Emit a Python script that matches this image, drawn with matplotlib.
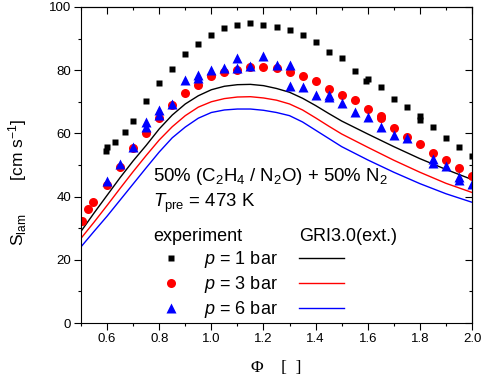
import matplotlib
matplotlib.use('Agg')
import matplotlib.pyplot as plt
from matplotlib.ticker import MultipleLocator

plt.rcParams['font.family'] = ['Liberation Sans', 'DejaVu Sans']
plt.rcParams['mathtext.fontset'] = 'custom'
plt.rcParams['mathtext.rm'] = 'Liberation Sans'
plt.rcParams['mathtext.it'] = 'Liberation Sans:italic'

# experiment, p = 1 bar
phi_1 = [0.595, 0.60, 0.63, 0.67, 0.70, 0.75, 0.80, 0.85, 0.90, 0.95, 1.00, 1.05, 1.10,
         1.15, 1.20, 1.25, 1.30, 1.35, 1.40, 1.45, 1.50, 1.55, 1.60, 1.595, 1.65, 1.70,
         1.75, 1.80, 1.80, 1.85, 1.90, 1.95, 2.00]
s_1 = [54.4, 55.7, 57.3, 60.4, 63.9, 70.3, 75.9, 80.4, 85.1, 88.3, 91.1, 93.4, 94.3,
       94.9, 94.3, 93.7, 92.7, 91.1, 88.9, 85.8, 83.9, 79.7, 77.2, 76.6, 74.7, 70.9,
       68.4, 65.5, 64.2, 62.0, 58.5, 55.7, 52.8]

# experiment, p = 3 bar
phi_3 = [0.505, 0.527, 0.546, 0.60, 0.65, 0.70, 0.75, 0.80, 0.85, 0.90, 0.95, 1.00,
         1.05, 1.10, 1.15, 1.20, 1.25, 1.30, 1.35, 1.40, 1.45, 1.50, 1.55, 1.60, 1.65,
         1.65, 1.70, 1.75, 1.80, 1.85, 1.90, 1.95, 2.00]
s_3 = [32.3, 36.1, 38.3, 43.7, 49.4, 55.4, 60.1, 64.9, 69.0, 72.8, 75.3, 78.2,
       79.4, 80.1, 81.0, 81.0, 80.7, 79.4, 78.2, 76.6, 74.1, 72.2, 70.6, 67.7, 65.5,
       64.9, 61.7, 58.9, 56.6, 53.8, 51.6, 49.1, 46.5]

# experiment, p = 6 bar
phi_6 = [0.60, 0.65, 0.70, 0.75, 0.75, 0.80, 0.80, 0.85, 0.90, 0.95, 0.95, 1.00, 1.05,
         1.10, 1.10, 1.15, 1.20, 1.25, 1.30, 1.30, 1.35, 1.40, 1.45, 1.45, 1.50, 1.55,
         1.60, 1.65, 1.70, 1.75, 1.85, 1.85, 1.90, 1.95, 1.95, 2.00]
s_6 = [44.9, 50.3, 55.7, 63.6, 62.0, 67.4, 65.8, 69.3, 76.9, 78.5, 77.5, 80.1, 80.7,
       83.9, 80.7, 81.3, 84.5, 81.6, 81.6, 75.0, 74.7, 72.2, 72.2, 71.5, 69.6, 66.8,
       65.2, 62.0, 59.5, 58.5, 51.9, 50.6, 49.7, 46.2, 45.3, 44.0]

# GRI3.0(ext.) model
phi_m = [0.50, 0.55, 0.60, 0.65, 0.70, 0.75, 0.80, 0.85, 0.90, 0.95, 1.00, 1.05, 1.10,
         1.15, 1.20, 1.25, 1.30, 1.35, 1.40, 1.45, 1.50, 1.60, 1.70, 1.80, 1.90, 2.00]
m_1 = [29.0, 34.8, 40.4, 46.0, 51.3, 56.2, 61.4, 65.8, 69.3, 71.9, 73.8, 74.9, 75.4,
       75.5, 75.1, 74.2, 73.0, 71.1, 68.8, 66.3, 63.9, 59.8, 55.8, 52.0, 48.6, 45.4]
m_3 = [26.8, 31.9, 37.2, 42.6, 47.9, 53.0, 57.9, 62.1, 65.6, 68.3, 70.0, 71.0, 71.5,
       71.6, 71.2, 70.5, 69.3, 67.4, 64.9, 62.3, 59.8, 55.6, 51.5, 47.7, 44.2, 41.3]
m_6 = [24.1, 29.0, 33.8, 38.9, 44.0, 49.1, 54.1, 58.6, 62.0, 64.8, 66.6, 67.4, 67.7,
       67.7, 67.3, 66.6, 65.6, 63.6, 61.0, 58.4, 55.8, 51.6, 47.7, 44.1, 40.9, 38.2]

labels = ['$p$ = 1 bar', '$p$ = 3 bar', '$p$ = 6 bar']

fig = plt.figure(figsize=(4.86, 3.85), dpi=100)
ax = fig.add_axes([0.1667, 0.161, 0.8045, 0.821])

l1, = ax.plot(phi_m, m_1, color='black', lw=1.0)
l3, = ax.plot(phi_m, m_3, color='red', lw=1.0)
l6, = ax.plot(phi_m, m_6, color='blue', lw=1.0)

p1, = ax.plot(phi_1, s_1, 's', color='black', ms=5, mec='none')
p3, = ax.plot(phi_3, s_3, 'o', color='red', ms=6.5, mec='none')
p6, = ax.plot(phi_6, s_6, '^', color='blue', ms=7, mec='none')

ax.set_xlim(0.5, 2.0)
ax.set_ylim(0, 100)
ax.xaxis.set_minor_locator(MultipleLocator(0.1))
ax.yaxis.set_major_locator(MultipleLocator(20))
ax.yaxis.set_minor_locator(MultipleLocator(10))
ax.set_xticks([0.6, 0.8, 1.0, 1.2, 1.4, 1.6, 1.8, 2.0])
ax.set_xticklabels(['0.6', '0.8', '1.0', '1.2', '1.4', '1.6', '1.8', '2.0'])
ax.tick_params(which='major', direction='out', length=5, width=0.8, labelsize=9.5, pad=2)
ax.tick_params(which='minor', direction='out', length=2.5, width=0.8)

# mirrored ticks on top / right, pointing in
top = ax.secondary_xaxis('top')
top.xaxis.set_major_locator(MultipleLocator(0.2))
top.xaxis.set_minor_locator(MultipleLocator(0.1))
top.tick_params(which='major', direction='in', length=5, width=0.8, labeltop=False)
top.tick_params(which='minor', direction='in', length=2.5, width=0.8)
right = ax.secondary_yaxis('right')
right.yaxis.set_major_locator(MultipleLocator(20))
right.yaxis.set_minor_locator(MultipleLocator(10))
right.tick_params(which='major', direction='in', length=5, width=0.8, labelright=False)
right.tick_params(which='minor', direction='in', length=2.5, width=0.8)

ax.set_ylabel(r'S$_{\mathrm{lam}}$       [cm s$^{-1}$]', fontsize=12.5)
ax.yaxis.set_label_coords(-0.133, 0.445)
ax.set_xlabel('Φ    [  ]', fontsize=12.5, family=['Liberation Serif'], labelpad=11)

ax.text(0.184, 0.462, r'50% (C$_2$H$_4$ / N$_2$O) + 50% N$_2$', transform=ax.transAxes,
        fontsize=13.4, va='center')
ax.text(0.184, 0.378, r'$T_{\mathrm{pre}}$ = 473 K', transform=ax.transAxes,
        fontsize=13.4, va='center')

leg1 = ax.legend([p1, p3, p6], labels, title='experiment', loc='upper left',
                 bbox_to_anchor=(0.184, 0.300), frameon=False, fontsize=13,
                 title_fontsize=13, handlelength=2.0, handletextpad=0.8,
                 labelspacing=0.22, borderpad=0, borderaxespad=0, alignment='left')
ax.add_artist(leg1)
# same labels as the experiment legend so the rows line up, text hidden
leg2 = ax.legend([l1, l3, l6], labels, title='GRI3.0(ext.)', loc='upper left',
                 bbox_to_anchor=(0.558, 0.300), frameon=False, fontsize=13,
                 title_fontsize=13, handlelength=2.5, handletextpad=0.2,
                 labelspacing=0.22, borderpad=0, borderaxespad=0, alignment='left')
for t in leg2.get_texts():
    t.set_color('none')

plt.savefig('out.png', dpi=100)
